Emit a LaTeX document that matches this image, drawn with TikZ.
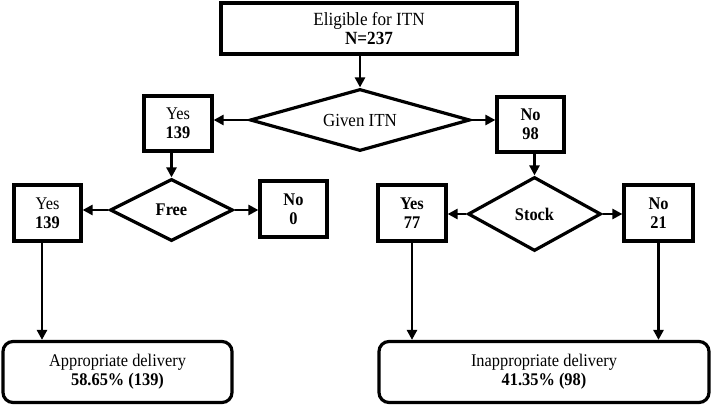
\documentclass[tikz,border=0pt]{standalone}
\usepackage{fontspec}
\setmainfont{Liberation Serif}[FakeStretch=0.92]
\usetikzlibrary{shapes.geometric,arrows.meta}
\tikzset{
  txt/.style={font=\fontsize{17.8}{19.3}\selectfont, align=center},
  box/.style={txt, draw, line width=3.2pt, inner sep=0pt},
  dia/.style={txt, draw, diamond, line width=3.2pt, inner sep=0pt},
  endbox/.style={box, rounded corners=10pt},
  arr/.style={line width=2.6pt, -{Triangle[length=10pt,width=10pt]}}
}
\begin{document}
\begin{tikzpicture}[x=1pt,y=-1pt]
\useasboundingbox (0,0) rectangle (711,406);
\node[box, font=\fontsize{18.6}{19.5}\selectfont, minimum width=296pt, minimum height=51pt] (top) at (369,28.5) {Eligible for ITN\\\textbf{N=237}};
\node[dia, font=\fontsize{18.4}{19}\selectfont, aspect=3.5, minimum width=220pt, minimum height=62pt] (given) at (360,120) {Given ITN};
\node[box, minimum width=68pt, minimum height=55pt] (yes1) at (178,123.5) {Yes\\\textbf{139}};
\node[box, minimum width=67pt, minimum height=55pt] (no1) at (530.5,124.5) {\textbf{No}\\\textbf{98}};
\node[dia, aspect=2, minimum width=123pt, minimum height=62pt] (free) at (171.5,210) {\textbf{Free}};
\node[dia, aspect=1.8, minimum width=133pt, minimum height=74pt] (stock) at (534.5,214) {\textbf{Stock}};
\node[box, minimum width=67pt, minimum height=56pt] (yes2) at (47.5,213) {Yes\\\textbf{139}};
\node[box, minimum width=67pt, minimum height=56pt] (no0) at (293.5,209) {\textbf{No}\\\textbf{0}};
\node[box, minimum width=68pt, minimum height=56pt] (yes3) at (412,213) {\textbf{Yes}\\\textbf{77}};
\node[box, minimum width=69pt, minimum height=56pt] (no21) at (658.5,213) {\textbf{No}\\\textbf{21}};
\node[endbox, minimum width=229pt, minimum height=61pt] (app) at (117.5,372) {Appropriate delivery\\\textbf{58.65\% (139)}};
\node[endbox, minimum width=330pt, minimum height=61pt] (inapp) at (544,372) {Inappropriate delivery\\\textbf{41.35\% (98)}};
\draw[arr] (given.north |- top.south) -- (given.north);
\draw[arr] (given.west) -- (given.west -| yes1.east);
\draw[arr] (given.east) -- (given.east -| no1.west);
\draw[arr] (free.north |- yes1.south) -- (free.north);
\draw[arr] (stock.north |- no1.south) -- (stock.north);
\draw[arr] (free.west) -- (free.west -| yes2.east);
\draw[arr] (free.east) -- (free.east -| no0.west);
\draw[arr] (stock.west) -- (stock.west -| yes3.east);
\draw[arr] (stock.east) -- (stock.east -| no21.west);
\draw[arr] ([xshift=-5.5pt]yes2.south) -- ([xshift=-5.5pt]yes2.south |- app.north);
\draw[arr] (yes3.south) -- (yes3.south |- inapp.north);
\draw[arr] (no21.south) -- (no21.south |- inapp.north);
\end{tikzpicture}
\end{document}
